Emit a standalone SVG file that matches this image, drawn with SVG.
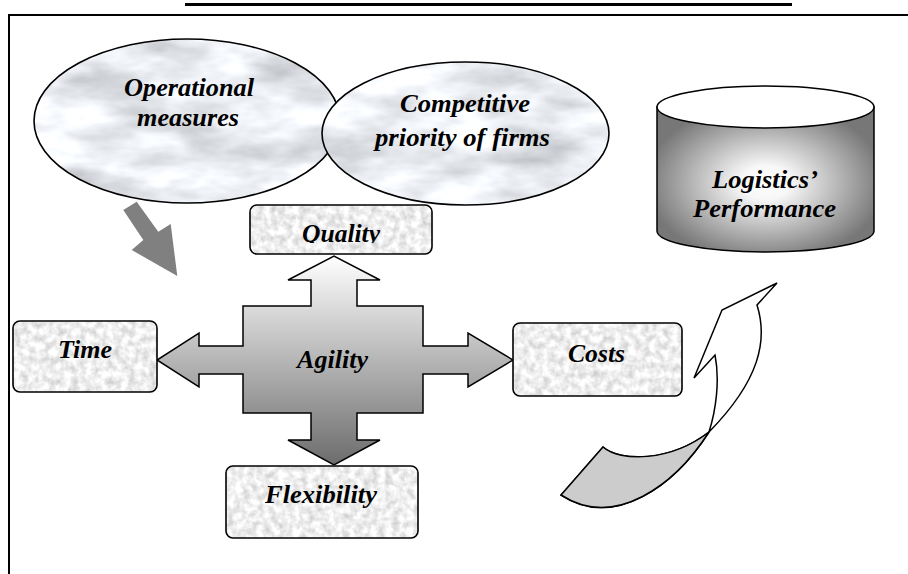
<svg xmlns="http://www.w3.org/2000/svg" width="908" height="574" viewBox="0 0 908 574">
<defs>
<filter id="fMarble" filterUnits="userSpaceOnUse" x="0" y="0" width="908" height="574" color-interpolation-filters="sRGB">
<feTurbulence type="fractalNoise" baseFrequency="0.012 0.03" numOctaves="4" seed="7"/>
<feColorMatrix type="matrix" values="0.5 0 0 0 0.67  0.5 0 0 0 0.68  0.5 0 0 0 0.7  0 0 0 0 1"/>
</filter>
<filter id="fGranite" filterUnits="userSpaceOnUse" x="0" y="0" width="908" height="574" color-interpolation-filters="sRGB">
<feTurbulence type="fractalNoise" baseFrequency="0.14" numOctaves="3" seed="3"/>
<feColorMatrix type="matrix" values="0.35 0 0 0 0.76  0.35 0 0 0 0.76  0.35 0 0 0 0.76  0 0 0 0 1"/>
</filter>
<pattern id="pMarble" patternUnits="userSpaceOnUse" x="0" y="0" width="908" height="574">
<rect width="908" height="574" filter="url(#fMarble)"/>
</pattern>
<pattern id="pGranite" patternUnits="userSpaceOnUse" x="0" y="0" width="908" height="574">
<rect width="908" height="574" filter="url(#fGranite)"/>
</pattern>
<linearGradient id="gCross" gradientUnits="userSpaceOnUse" x1="0" y1="256" x2="0" y2="465">
<stop offset="0" stop-color="#ffffff"/>
<stop offset="1" stop-color="#6c6c6c"/>
</linearGradient>
<radialGradient id="gCyl" cx="0.5" cy="0.52" r="0.58">
<stop offset="0" stop-color="#ffffff"/>
<stop offset="0.2" stop-color="#f7f7f7"/>
<stop offset="0.95" stop-color="#777777"/>
</radialGradient>
<clipPath id="clipQ"><rect x="240" y="200" width="200" height="43"/></clipPath>
</defs>
<style>
.lbl{font-family:'Liberation Serif','Times New Roman','DejaVu Serif',serif;font-weight:700;font-style:italic;font-size:26px;fill:#000}
.ell{fill:url(#pMarble);stroke:#000;stroke-width:1.6}
.box{fill:url(#pGranite);stroke:#000;stroke-width:1.6}
.ln{stroke:#000;stroke-width:1.5;stroke-linejoin:miter}
</style>
<rect x="0" y="0" width="908" height="574" fill="#fff"/>
<rect x="185" y="3" width="607" height="3" fill="#000"/>
<rect x="9" y="15" width="920" height="600" fill="none" stroke="#000" stroke-width="2"/>

<g id="connectors">
<polygon points="136.7,201.7 158.3,231.7 170.7,224 177.3,276 131.7,250 143.3,240 123.3,210" fill="#808080"/>
<path class="ln" fill="#fff" d="M603,447 C620,462 670,462 709,432 C716,410 720,380 715,355 L694,378 L722,310 L777,283 L757,305 C768,340 760,380 709,432 C675,485 615,530 561,495 Z"/>
<path class="ln" fill="#cccccc" d="M603,447 C620,462 670,462 709,432 C675,485 615,530 561,495 Z"/>
</g>

<g id="operational">
<ellipse class="ell" cx="187" cy="121" rx="153" ry="82"/>
<text class="lbl" x="124" y="96" textLength="130" lengthAdjust="spacingAndGlyphs">Operational</text>
<text class="lbl" x="137" y="126" textLength="102" lengthAdjust="spacingAndGlyphs">measures</text>
</g>

<g id="competitive">
<ellipse class="ell" cx="465.5" cy="133.5" rx="143.5" ry="71.5"/>
<text class="lbl" x="400" y="112" textLength="130" lengthAdjust="spacingAndGlyphs">Competitive</text>
<text class="lbl" x="375" y="146" textLength="175" lengthAdjust="spacingAndGlyphs">priority of firms</text>
</g>

<g id="logistics">
<path class="ln" fill="url(#gCyl)" d="M657,107 L657,231 A108.5,21 0 0 0 874,231 L874,107 Z"/>
<ellipse class="ln" fill="#fff" cx="765.5" cy="107" rx="108.5" ry="21"/>
<text class="lbl" x="712" y="188" textLength="106" lengthAdjust="spacingAndGlyphs">Logistics’</text>
<text class="lbl" x="693" y="217" textLength="143" lengthAdjust="spacingAndGlyphs">Performance</text>
</g>

<g id="quality">
<rect class="box" x="250" y="205" width="182" height="49" rx="7"/>
<text class="lbl" x="302" y="242" textLength="78" lengthAdjust="spacingAndGlyphs" clip-path="url(#clipQ)">Quality</text>
</g>

<g id="agility">
<path class="ln" fill="url(#gCross)" d="M243,306 H311 V280 H288 L334,256 L380,280 H357 V306 H423 V346 H468 V333 L513,360 L468,387 V374 H423 V413 H357 V440 H380 L334,465 L288,440 H311 V413 H243 V374 H199 V387 L157,360 L199,333 V346 H243 Z"/>
<text class="lbl" x="297" y="368" textLength="71" lengthAdjust="spacingAndGlyphs">Agility</text>
</g>

<g id="time">
<rect class="box" x="13" y="321" width="144" height="71" rx="7"/>
<text class="lbl" x="58" y="357.5" textLength="54" lengthAdjust="spacingAndGlyphs">Time</text>
</g>

<g id="costs">
<rect class="box" x="513" y="323" width="169" height="73" rx="7"/>
<text class="lbl" x="568" y="361.5" textLength="57" lengthAdjust="spacingAndGlyphs">Costs</text>
</g>

<g id="flexibility">
<rect class="box" x="226" y="466" width="192" height="72" rx="7"/>
<text class="lbl" x="265" y="503" textLength="112" lengthAdjust="spacingAndGlyphs">Flexibility</text>
</g>
</svg>
